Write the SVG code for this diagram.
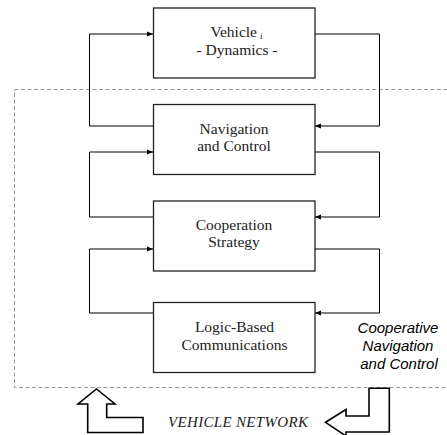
<svg xmlns="http://www.w3.org/2000/svg" width="447" height="435" viewBox="0 0 447 435">
<defs>
<marker id="ah" viewBox="0 0 10 10" refX="10" refY="5" markerWidth="6" markerHeight="6" markerUnits="userSpaceOnUse" orient="auto">
<path d="M0,1 L10,5 L0,9 z" fill="#000"/>
</marker>
<style>
.box{fill:#fff;stroke:#222;stroke-width:1.3}
.lbl{font-family:"Liberation Serif","DejaVu Serif",serif;font-size:15.5px;fill:#222;text-anchor:middle}
.conn path{fill:none;stroke:#000;stroke-width:1;marker-end:url(#ah)}
.side{font-family:"Liberation Sans",Arial,sans-serif;font-style:italic;font-size:15px;fill:#000;text-anchor:middle}
.big{fill:#fff;stroke:#000;stroke-width:1.6;stroke-linejoin:miter}
</style>
</defs>
<rect x="14.5" y="89.5" width="450" height="298" fill="none" stroke="#999" stroke-width="1" stroke-dasharray="4 2.5"/>
<g class="conn">
<path d="M153,126 H89.5 V34 H153"/>
<path d="M315,34 H379.5 V126 H315"/>
<path d="M153,217 H89.5 V152 H153"/>
<path d="M315,152 H379.5 V217 H315"/>
<path d="M153,313 H89.5 V249 H153"/>
<path d="M315,249 H379.5 V313 H315"/>
</g>
<g id="vehicle">
<rect class="box" x="153.5" y="8" width="161.5" height="70"/>
<text class="lbl" x="257" y="36.5" text-anchor="end" style="text-anchor:end">Vehicle</text>
<text x="260" y="38.5" font-family="'Liberation Serif','DejaVu Serif',serif" font-size="9" fill="#222">i</text>
<text class="lbl" x="237" y="55">- Dynamics -</text>
</g>
<g id="nav">
<rect class="box" x="153.5" y="104.5" width="161.5" height="70"/>
<text class="lbl" x="234" y="133.5">Navigation</text>
<text class="lbl" x="234" y="151">and Control</text>
</g>
<g id="coop">
<rect class="box" x="153.5" y="201" width="161.5" height="70"/>
<text class="lbl" x="234" y="229.5">Cooperation</text>
<text class="lbl" x="234" y="247">Strategy</text>
</g>
<g id="logic">
<rect class="box" x="153.5" y="302.5" width="161.5" height="70"/>
<text class="lbl" x="234.5" y="331.5">Logic-Based</text>
<text class="lbl" x="234.5" y="349.5">Communications</text>
</g>
<g id="side-label">
<text class="side" x="398" y="333">Cooperative</text>
<text class="side" x="398" y="351">Navigation</text>
<text class="side" x="399" y="368.5">and Control</text>
</g>
<g id="up-arrow">
<polygon class="big" points="96.5,389 115,404 106.7,404 106.7,417.5 143,417.5 143,432.5 87.7,432.5 87.7,404 78,404"/>
</g>
<g id="left-arrow">
<polygon class="big" points="325.5,422.3 346,409.5 346,416 369,416 369,388.3 389.3,388.3 389.3,432 346,432 346,436 "/>
</g>
<g id="network">
<text x="238" y="426.5" font-family="'Liberation Serif','DejaVu Serif',serif" font-style="italic" font-size="15" fill="#222" text-anchor="middle" textLength="140">VEHICLE NETWORK</text>
</g>
</svg>
